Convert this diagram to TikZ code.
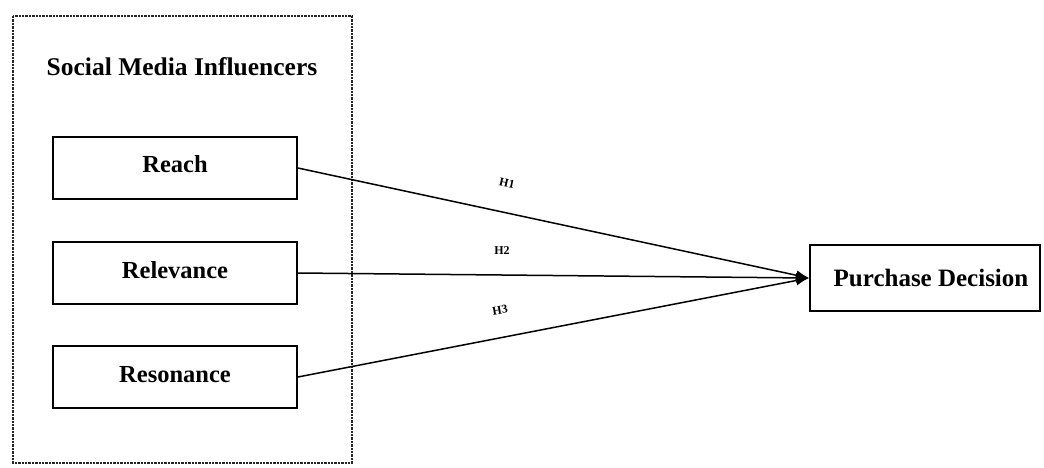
\documentclass[tikz,border=0pt]{standalone}
\usepackage{fontspec}
\setmainfont{Liberation Serif}
\usetikzlibrary{arrows.meta}
\begin{document}
\begin{tikzpicture}[x=1pt,y=-1pt,
  varbox/.style={draw, line width=1.8pt, minimum width=244pt, minimum height=62pt, inner sep=0pt, font=\bfseries\fontsize{24.5}{28}\selectfont},
  link/.style={line width=1.5pt, -{Latex[length=13pt,width=10pt]}},
  hyp/.style={font=\bfseries\fontsize{12}{13}\selectfont}]
\useasboundingbox (0,0) rectangle (1044,467);
\draw[line width=2.4pt, densely dotted, black!85] (13,16) rectangle (352,463);
\node[font=\bfseries\fontsize{25.5}{29}\selectfont] (title) at (182,67) {Social Media Influencers};
\node[varbox] (reach) at (175,168) {\raisebox{8pt}{Reach}};
\node[varbox] (rel) at (175,273) {\raisebox{6pt}{Relevance}};
\node[varbox] (res) at (175,377) {\raisebox{6pt}{Resonance}};
\node[draw, line width=1.8pt, minimum width=230pt, minimum height=66pt, inner sep=0pt, font=\bfseries\fontsize{25}{28}\selectfont] (pd) at (925,278) {\hspace*{12pt}Purchase Decision};
\draw[link] (reach.east) -- (pd.west);
\draw[link] (rel.east) -- (pd.west);
\draw[link] (res.east) -- (pd.west);
\node[hyp, rotate=-12] (h1) at (507,183) {H1};
\node[hyp] (h2) at (502,251) {H2};
\node[hyp, rotate=10] (h3) at (500,310) {H3};
\end{tikzpicture}
\end{document}
